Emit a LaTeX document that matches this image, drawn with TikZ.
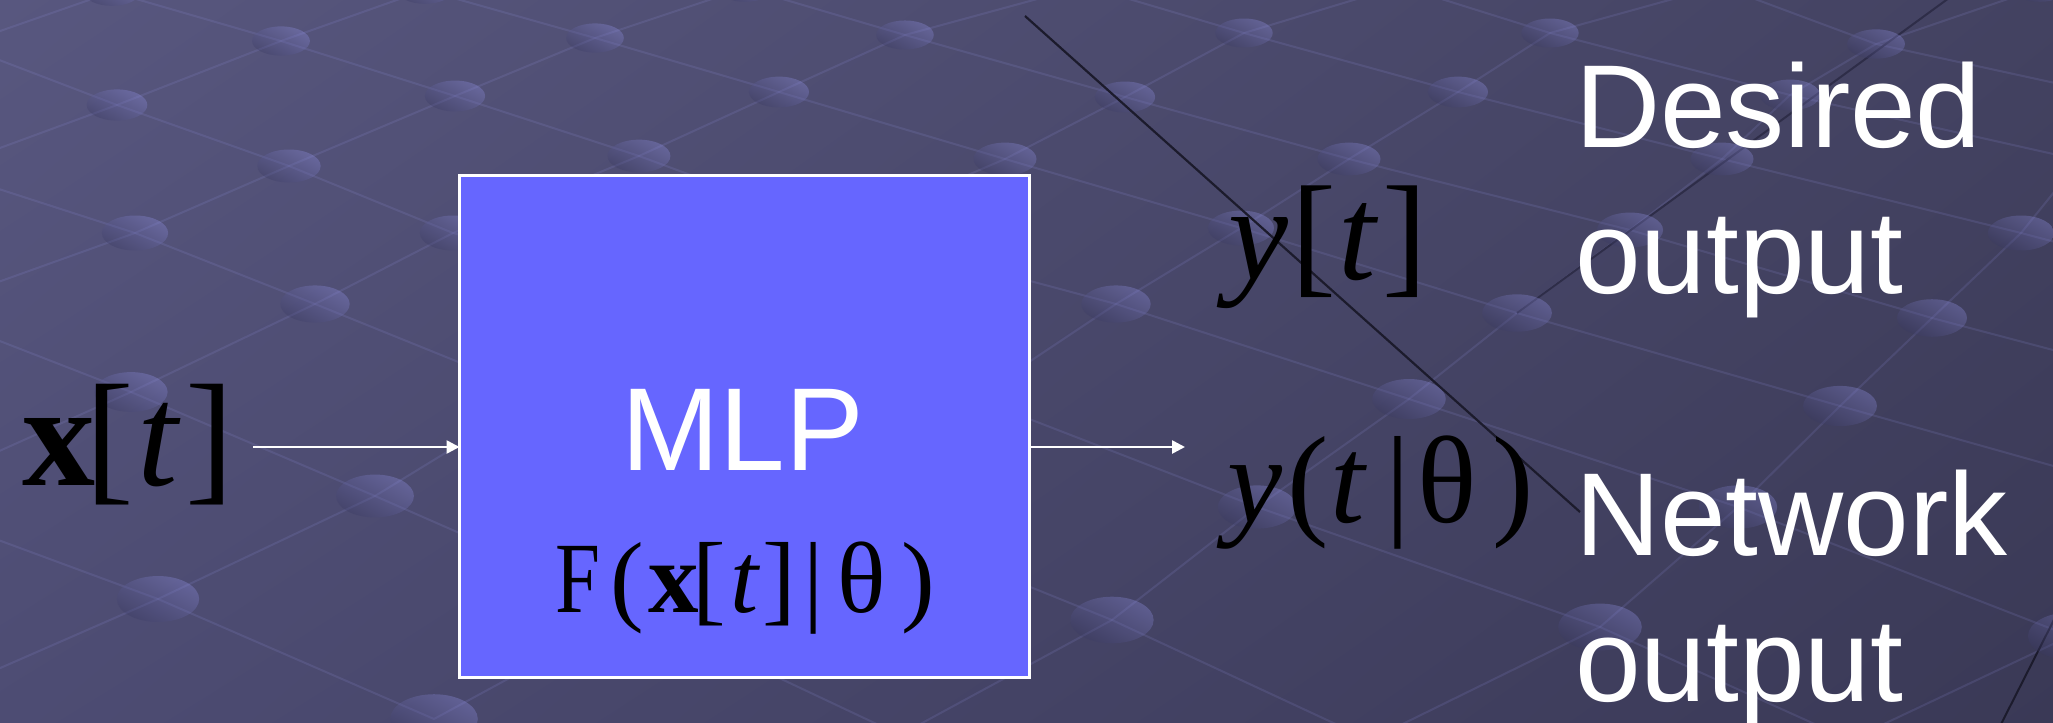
\documentclass[tikz,border=0pt]{standalone}
\usepackage{fontspec}
\usepackage{graphicx}
\setmainfont{Liberation Serif}
\newfontfamily\sansf{Liberation Sans}
\usetikzlibrary{arrows.meta,shadings}
\definecolor{bgUL}{HTML}{58577F}
\definecolor{bgUR}{HTML}{434261}
\definecolor{bgLL}{HTML}{4D4C73}
\definecolor{bgLR}{HTML}{3A3956}
\definecolor{boxblue}{HTML}{6666FF}
\definecolor{darkline}{HTML}{1C1B2C}
\definecolor{shadowline}{HTML}{2E2D48}
\definecolor{latcol}{RGB}{150,150,230}
\definecolor{dotlight}{RGB}{150,150,235}
\definecolor{dotdark}{RGB}{55,55,95}
\newcommand{\gat}[2]{\rlap{\kern\dimexpr #1pt/2\relax #2}}
\newcommand{\fs}[1]{\fontsize{#1}{#1}\selectfont}
\begin{document}
\begin{tikzpicture}[x=0.5pt,y=-0.5pt,
  lattice/.style={draw=latcol, draw opacity=0.15, line width=1pt},
  dotsh/.style={left color=dotlight, right color=dotdark, shading angle=-30, opacity=0.32},
  arr/.style={draw=white, line width=1.3pt, -{Triangle[length=6.5pt,width=6.5pt]}},
  lbl/.style={font=\sansf\fs{59}, text=white, inner sep=0pt, outer sep=0pt, anchor=base west},
  mth/.style={inner sep=0pt, outer sep=0pt, anchor=base west, text=black}]
\useasboundingbox (0,0) rectangle (2053,723);
\begin{scope}
\clip (0,0) rectangle (2053,723);
\shade[upper left=bgUL, upper right=bgUR, lower left=bgLL, lower right=bgLR] (0,0) rectangle (2053,723);
% lattice lines (zigzags between consecutive rows)
\draw[lattice] (-40,45) -- (112,-8) -- (281,41) -- (425,-10) -- (595,38) -- (745,-12) -- (905,35) -- (1085,-14) -- (1244,33) -- (1400,-14) -- (1550,33) -- (1720,-14) -- (1876,44) -- (2040,-12) -- (2190,44);
\draw[lattice] (-40,45) -- (117,105) -- (281,41) -- (455,96) -- (595,38) -- (779,92) -- (905,35) -- (1125,97) -- (1244,33) -- (1458,92) -- (1550,33) -- (1790,95) -- (1876,44) -- (2110,95) -- (2190,44);
\draw[lattice] (-60,170) -- (117,105) -- (289,166) -- (455,96) -- (639,156) -- (779,92) -- (1005,159) -- (1125,97) -- (1349,159) -- (1458,92) -- (1722,159) -- (1790,95) -- (2080,160) -- (2110,95);
\draw[lattice] (-60,170) -- (135,233) -- (289,166) -- (453,233) -- (639,156) -- (840,230) -- (1005,159) -- (1241,228) -- (1349,159) -- (1630,230) -- (1722,159) -- (2021,233) -- (2080,160);
\draw[lattice] (-80,310) -- (135,233) -- (315,304) -- (453,233) -- (715,304) -- (840,230) -- (1116,304) -- (1241,228) -- (1517,313) -- (1630,230) -- (1932,318) -- (2021,233) -- (2350,320);
\draw[lattice] (-80,310) -- (131,392) -- (315,304) -- (540,395) -- (715,304) -- (975,398) -- (1116,304) -- (1409,399) -- (1517,313) -- (1840,406) -- (1932,318) -- (2280,410) -- (2350,320);
\draw[lattice] (-110,500) -- (131,392) -- (375,496) -- (540,395) -- (815,500) -- (975,398) -- (1257,507) -- (1409,399) -- (1738,507) -- (1840,406) -- (2210,510) -- (2280,410);
\draw[lattice] (-110,500) -- (158,599) -- (375,496) -- (635,610) -- (815,500) -- (1112,620) -- (1257,507) -- (1600,627) -- (1738,507) -- (2070,636) -- (2210,510) -- (2540,645);
\draw[lattice] (-130,725) -- (158,599) -- (434,719) -- (635,610) -- (900,735) -- (1112,620) -- (1370,740) -- (1600,627) -- (1850,740) -- (2070,636) -- (2330,745);
% darker decorative lines
\draw[shadowline, line width=1pt] (1517,313) -- (1960,-10);
\draw[darkline, line width=1pt] (2066,596) -- (1994,738);
% dots
\foreach \px/\py in {112/-8,425/-10,745/-12,1085/-14,1400/-14,1720/-14,2040/-12,
  281/41,595/38,905/35,1244/33,1550/33,1876/44,
  117/105,455/96,779/92,1125/97,1458/92,1790/95,
  289/166,639/156,1005/159,1349/159,1722/159,
  135/233,453/233,840/230,1241/228,1630/230,2021/233,
  315/304,715/304,1116/304,1517/313,1932/318,
  131/392,540/395,975/398,1409/399,1840/406,
  375/496,815/500,1257/507,1738/507,
  158/599,635/610,1112/620,1600/627,2070/636,
  434/719}
  \shade[dotsh] (\px,\py) ellipse [x radius={28+0.022*\py}, y radius={14+0.015*\py}];
% black diagonal line
\draw[darkline, line width=1.1pt] (1025,16) -- (1580,512);
\end{scope}
% MLP box
\node[draw=white, line width=1.5pt, fill=boxblue, minimum width=285pt, minimum height=251pt, inner sep=0pt, outer sep=0pt, anchor=north west] (mlp) at (459.5,175.5) {};
\node[font=\sansf\fs{59}, text=white, inner sep=0pt, outer sep=0pt, anchor=base] (mlplbl) at (743,470) {MLP};
\node[mth] (fx) at (555,612) {\fs{50.5}\gat{0}{\scalebox{0.8}[1]{F}}\gat{55}{(}\gat{93}{\bfseries x}\gat{137}{[}\gat{175}{\itshape t}\gat{207}{]}\gat{249}{|}\gat{283}{θ}\gat{347}{)}\kern189pt};
% input
\node[mth] (xt) at (23,485) {\fs{73}\gat{0}{\bfseries x}\gat{63}{[}\gat{115}{\itshape t}\gat{163}{]}\kern100pt};
% outputs
\node[mth] (yt) at (1228,279) {\fs{67.5}\gat{0}{\itshape y}\gat{63}{[}\gat{110}{\itshape t}\gat{154}{]}\kern95pt};
\node[mth] (ytheta) at (1227,522) {\fs{62}\gat{0}{\itshape y}\gat{60}{(}\gat{103}{\itshape t}\gat{158}{|}\gat{191}{θ}\gat{266}{)}\kern150pt};
\node[lbl] (d1) at (1575,147.5) {Desired};
\node[lbl] (d2) at (1575,293) {output};
\node[lbl] (n1) at (1575,555.6) {Network};
\node[lbl] (n2) at (1575,701) {output};
% connectors
\coordinate (inS) at (253,447);
\coordinate (outE) at (1185,447);
\draw[arr] (inS) -- (inS -| mlp.west);
\draw[arr] (outE -| mlp.east) -- (outE);
\end{tikzpicture}
\end{document}
